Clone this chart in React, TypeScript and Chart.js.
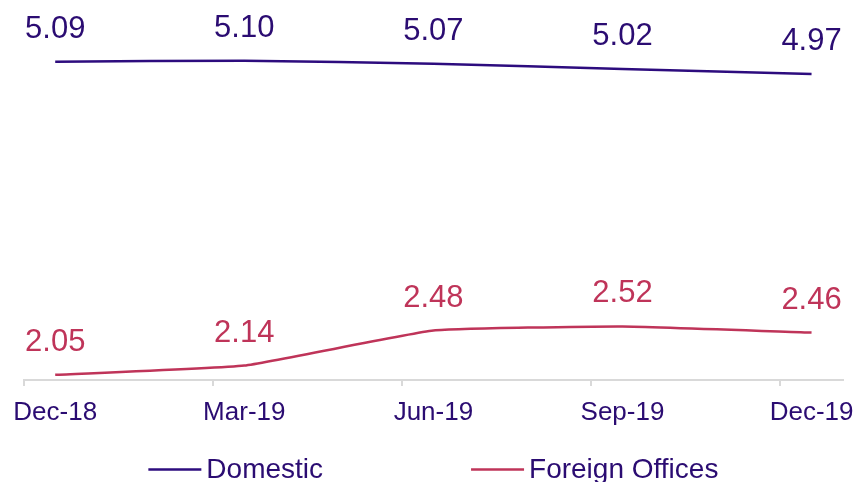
import React, { useEffect, useRef } from "react";
import { Chart, registerables } from "chart.js";

Chart.register(...registerables);

const categories = ["Dec-18", "Mar-19", "Jun-19", "Sep-19", "Dec-19"];
const domesticValues = [5.09, 5.1, 5.07, 5.02, 4.97];
const foreignValues = [2.05, 2.14, 2.48, 2.52, 2.46];
const seriesNames = ["Domestic", "Foreign Offices"];

const FONT = "'Liberation Sans', Arial, sans-serif";
const TEXT = "#2B0C72";
const DOM = "#2D0C7E";
const FOR = "#BF3459";
const AXIS = "#D9D9D9";
const EDGE = 0.165;

const labelPlugin = {
  id: "valueLabels",
  afterDatasetsDraw(chart: any) {
    const ctx = chart.ctx;
    ctx.save();
    ctx.font = `31px ${FONT}`;
    ctx.textAlign = "center";
    ctx.textBaseline = "alphabetic";
    chart.data.datasets.forEach((ds: any, di: number) => {
      const meta = chart.getDatasetMeta(di);
      ctx.fillStyle = ds.labelColor;
      meta.data.forEach((pt: any, i: number) => {
        const v = ds.data[i].y;
        ctx.fillText(v.toFixed(2), pt.x, pt.y - 24);
      });
    });
    ctx.restore();
  },
};

const legendPlugin = {
  id: "bottomLegend",
  afterDraw(chart: any) {
    const ctx = chart.ctx;
    const area = chart.chartArea;
    ctx.save();
    ctx.font = `28px ${FONT}`;
    const lineW = 53;
    const gapText = 5;
    const gapItems = 148;
    const items = chart.data.datasets.map((ds: any) => ({
      label: ds.label,
      color: ds.borderColor,
      w: lineW + gapText + ctx.measureText(ds.label).width,
    }));
    const total =
      items.reduce((s: number, it: any) => s + it.w, 0) + gapItems * (items.length - 1);
    let x = (area.left + area.right) / 2 - total / 2;
    const lineY = 469.5;
    const baseY = 478;
    items.forEach((it: any) => {
      ctx.strokeStyle = it.color;
      ctx.lineWidth = 2.5;
      ctx.beginPath();
      ctx.moveTo(x, lineY);
      ctx.lineTo(x + lineW, lineY);
      ctx.stroke();
      ctx.fillStyle = TEXT;
      ctx.textAlign = "left";
      ctx.textBaseline = "alphabetic";
      ctx.fillText(it.label, x + lineW + gapText, baseY);
      x += it.w + gapItems;
    });
    ctx.restore();
  },
};

export default function App() {
  const ref = useRef<HTMLCanvasElement>(null);

  useEffect(() => {
    if (!ref.current) return;
    const chart = new Chart(ref.current, {
      type: "line",
      data: {
        datasets: [
          {
            label: seriesNames[0],
            data: domesticValues.map((y, i) => ({ x: i, y })),
            borderColor: DOM,
            borderWidth: 2.5,
            pointRadius: 0,
            tension: 0.12,
            fill: false,
            labelColor: TEXT,
          } as any,
          {
            label: seriesNames[1],
            data: foreignValues.map((y, i) => ({ x: i, y })),
            borderColor: FOR,
            borderWidth: 2.5,
            pointRadius: 0,
            tension: 0.12,
            fill: false,
            labelColor: FOR,
          } as any,
        ],
      },
      options: {
        animation: false,
        responsive: false,
        layout: { padding: { top: 19.5, left: 24, right: 12, bottom: 0 } },
        plugins: {
          legend: { display: false },
          tooltip: { enabled: false },
        },
        scales: {
          y: { display: false, min: 2.0, max: 5.5 },
          x2: {
            type: "linear",
            position: "bottom",
            weight: 0,
            min: -EDGE,
            max: categories.length - 1 + EDGE,
            afterBuildTicks: (axis: any) => {
              axis.ticks = categories.map((_, i) => ({ value: i - EDGE }));
            },
            afterFit: (axis: any) => {
              axis.height = 6;
            },
            grid: {
              display: true,
              drawOnChartArea: false,
              drawTicks: true,
              tickLength: 6,
              color: AXIS,
              lineWidth: 2,
            },
            border: { display: true, color: AXIS, width: 2 },
            ticks: { display: false },
          },
          x: {
            type: "linear",
            position: "bottom",
            weight: 1,
            min: -EDGE,
            max: categories.length - 1 + EDGE,
            afterBuildTicks: (axis: any) => {
              axis.ticks = categories.map((_, i) => ({ value: i }));
            },
            afterFit: (axis: any) => {
              axis.height = 96;
            },
            grid: { display: false },
            border: { display: false },
            ticks: {
              autoSkip: false,
              maxRotation: 0,
              padding: 3,
              color: TEXT,
              font: { family: FONT, size: 26 },
              callback: (v: any) => categories[v as number],
            },
          },
        },
      } as any,
      plugins: [labelPlugin, legendPlugin],
    });
    return () => chart.destroy();
  }, []);

  return (
    <div style={{ position: "fixed", left: 0, top: 0, width: 857, height: 482, background: "#fff" }}>
      <canvas ref={ref} width={857} height={482} style={{ display: "block" }} />
    </div>
  );
}
